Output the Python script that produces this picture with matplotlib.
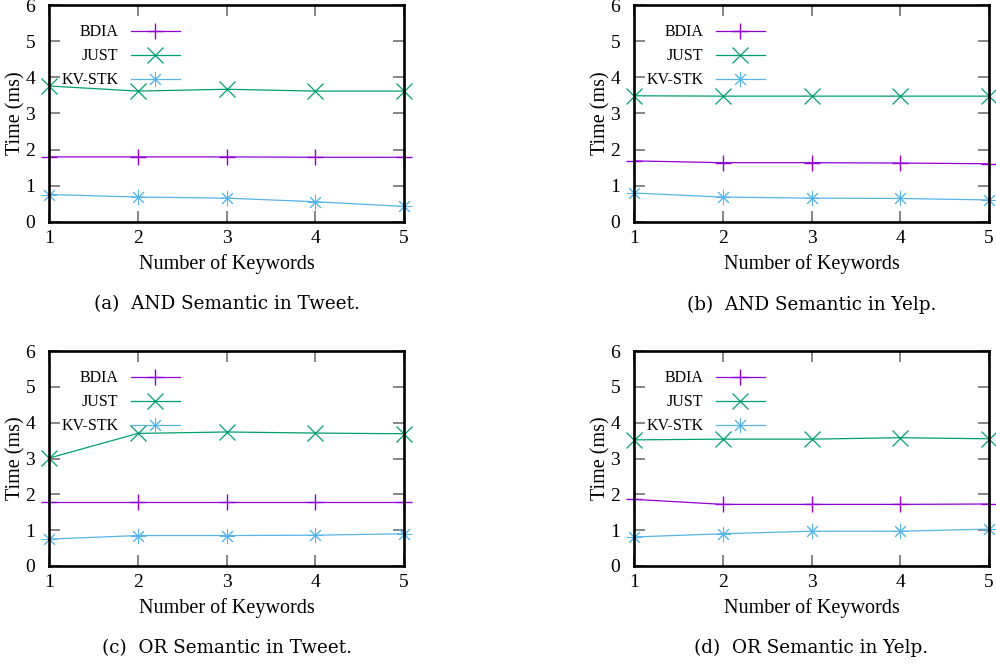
import matplotlib
matplotlib.use("Agg")
import matplotlib.pyplot as plt

keywords = [1, 2, 3, 4, 5]
series_names = ["BDIA", "JUST", "KV-STK"]

and_tweet_bdia = [1.80, 1.80, 1.80, 1.79, 1.79]
and_tweet_just = [3.76, 3.62, 3.67, 3.62, 3.62]
and_tweet_kvstk = [0.76, 0.69, 0.66, 0.56, 0.43]

and_yelp_bdia = [1.69, 1.64, 1.64, 1.63, 1.61]
and_yelp_just = [3.49, 3.48, 3.48, 3.48, 3.48]
and_yelp_kvstk = [0.80, 0.69, 0.66, 0.65, 0.61]

or_tweet_bdia = [1.80, 1.80, 1.80, 1.80, 1.80]
or_tweet_just = [3.01, 3.70, 3.74, 3.71, 3.69]
or_tweet_kvstk = [0.75, 0.85, 0.85, 0.86, 0.90]

or_yelp_bdia = [1.86, 1.72, 1.72, 1.72, 1.73]
or_yelp_just = [3.52, 3.54, 3.54, 3.58, 3.55]
or_yelp_kvstk = [0.81, 0.90, 0.97, 0.97, 1.03]

captions = ["(a)  AND Semantic in Tweet.", "(b)  AND Semantic in Yelp.",
            "(c)  OR Semantic in Tweet.", "(d)  OR Semantic in Yelp."]
panels = [
    (and_tweet_bdia, and_tweet_just, and_tweet_kvstk),
    (and_yelp_bdia, and_yelp_just, and_yelp_kvstk),
    (or_tweet_bdia, or_tweet_just, or_tweet_kvstk),
    (or_yelp_bdia, or_yelp_just, or_yelp_kvstk),
]

colors = ["#9400D3", "#009E73", "#56B4E9"]
markers = ["+", "x", (8, 2, 0)]
marker_sizes = [11, 12, 11]
marker_widths = [1.0, 0.9, 0.7]

plt.rcParams["font.family"] = ["Liberation Serif", "DejaVu Serif"]

fig = plt.figure(figsize=(9.96, 6.66), dpi=100)
W, H = 996, 666
boxes = [(49, 5, 404, 222), (634, 5, 989, 222),
         (49, 351, 404, 566), (634, 351, 989, 566)]

for (l, t, r, b), data, cap in zip(boxes, panels, captions):
    ax = fig.add_axes([l / W, 1 - b / H, (r - l) / W, (b - t) / H])
    for name, vals, c, m, ms, mw in zip(series_names, data, colors, markers,
                                        marker_sizes, marker_widths):
        ax.plot(keywords, vals, color=c, lw=0.9, marker=m, markersize=ms,
                markeredgewidth=mw, label=name, clip_on=False, zorder=3)
    ax.set_xlim(1, 5)
    ax.set_ylim(0, 6)
    ax.set_xticks(keywords)
    ax.set_yticks(range(0, 7))
    for s in ax.spines.values():
        s.set_linewidth(1.9)
        s.set_color("black")
        s.set_zorder(4)
    ax.tick_params(direction="in", length=8, width=1.1, color="#666666",
                   top=True, right=True, labelsize=14, pad=6)
    ax.tick_params(axis="y", pad=10)
    ax.set_xlabel("Number of Keywords", fontsize=14.5, labelpad=5)
    ax.set_ylabel("Time (ms)", fontsize=14.5, labelpad=-0.5)
    ax.legend(loc="upper left", bbox_to_anchor=(0.008, 0.955),
              frameon=False, markerfirst=False, fontsize=11.5,
              handlelength=3.1, handletextpad=0.75, labelspacing=0.5,
              borderaxespad=0.2)
    ax.text(0.5, -0.38, cap, transform=ax.transAxes, ha="center", va="center",
            fontsize=13.2, family="DejaVu Serif")

fig.savefig("out.png", dpi=100)
